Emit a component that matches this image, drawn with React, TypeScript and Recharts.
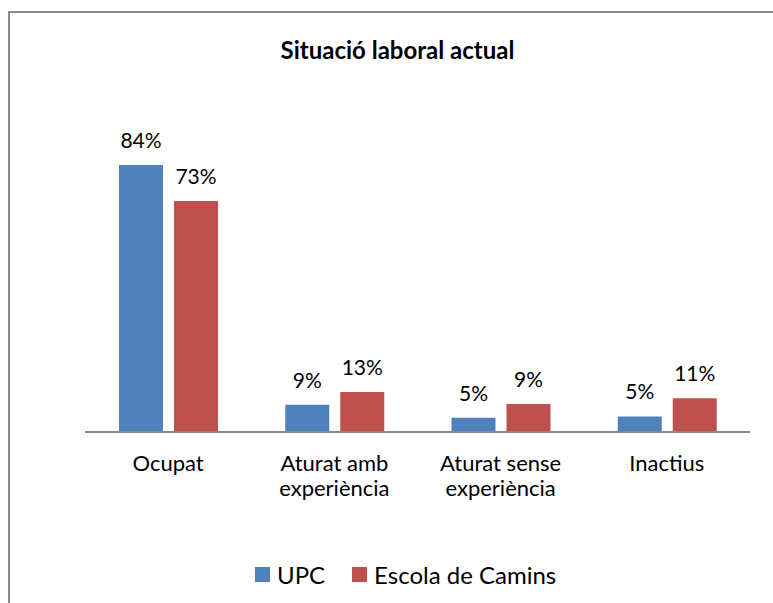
import React from 'react';
import { BarChart, Bar, XAxis, YAxis, Legend, LabelList } from 'recharts';

// Situació laboral actual
const categories = ['Ocupat', 'Aturat amb experiència', 'Aturat sense experiència', 'Inactius'];
const upc = [84, 8.6, 4.5, 4.9];
const camins = [72.7, 12.6, 8.8, 10.6];

const data = categories.map((name, i) => ({ name, upc: upc[i], camins: camins[i] }));

const FONT = 'Lato, "Open Sans", sans-serif';
const BLUE = '#4F81BD';
const RED = '#C0504D';

const splitLabel = (s: string) => {
  if (s.length <= 10) return [s];
  const i = s.lastIndexOf(' ');
  return [s.slice(0, i), s.slice(i + 1)];
};

const CategoryTick = ({ x, y, payload }: any) => {
  const lines = splitLabel(payload.value);
  return (
    <text x={x} y={y} textAnchor="middle" fill="#000" fontSize={22} fontFamily={FONT}>
      {lines.map((l, i) => (
        <tspan key={i} x={x} dy={i === 0 ? 31 : 25}>
          {l}
        </tspan>
      ))}
    </text>
  );
};

const LegendContent = () => (
  <div style={{ height: 31, display: 'flex', alignItems: 'center', fontFamily: FONT, fontSize: 24, color: '#000' }}>
    <span style={{ width: 15, height: 15, background: BLUE, display: 'inline-block', marginRight: 7 }} />
    <span style={{ marginRight: 27 }}>UPC</span>
    <span style={{ width: 15, height: 15, background: RED, display: 'inline-block', marginRight: 7 }} />
    <span>Escola de Camins</span>
  </div>
);

const pct = (v: any) => `${Math.round(Number(v))}%`;

export default function App() {
  return (
    <div style={{ position: 'fixed', left: 0, top: 0, width: 773, height: 603, background: '#fff', overflow: 'hidden' }}>
      <div
        style={{
          position: 'absolute',
          left: 8,
          top: 11,
          width: 800,
          height: 620,
          border: '2px solid #8a8a8a',
          boxSizing: 'border-box',
        }}
      />
      <div
        style={{
          position: 'absolute',
          left: 0,
          top: 35,
          width: 795,
          textAlign: 'center',
          fontFamily: FONT,
          fontWeight: 700,
          fontSize: 24,
          lineHeight: 'normal',
          color: '#000',
        }}
      >
        Situació laboral actual
      </div>
      <div style={{ position: 'absolute', left: 0, top: 0 }}>
        <BarChart
          width={773}
          height={603}
          data={data}
          margin={{ top: 146, right: 23, left: 85, bottom: 0 }}
          barGap={11}
          barSize={44}
        >
          <XAxis
            dataKey="name"
            axisLine={{ stroke: '#888', strokeWidth: 2 }}
            tickLine={false}
            tick={<CategoryTick />}
            interval={0}
            height={140}
          />
          <YAxis hide domain={[0, 90]} />
          <Legend
            content={<LegendContent />}
            wrapperStyle={{ left: 255, top: 559, width: 'auto' }}
          />
          <Bar dataKey="upc" name="UPC" fill={BLUE} isAnimationActive={false}>
            <LabelList dataKey="upc" position="top" offset={17} formatter={pct} fill="#000" fontSize={21} fontFamily={FONT} />
          </Bar>
          <Bar dataKey="camins" name="Escola de Camins" fill={RED} isAnimationActive={false}>
            <LabelList dataKey="camins" position="top" offset={17} formatter={pct} fill="#000" fontSize={21} fontFamily={FONT} />
          </Bar>
        </BarChart>
      </div>
    </div>
  );
}
